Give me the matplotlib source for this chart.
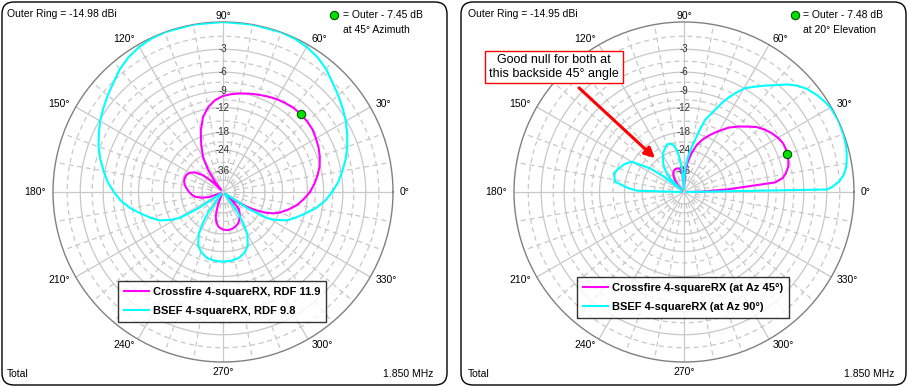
import numpy as np
import matplotlib
matplotlib.use("Agg")
import matplotlib.pyplot as plt
from matplotlib.patches import FancyBboxPatch, FancyArrowPatch
from matplotlib.transforms import IdentityTransform

# pattern values: dB below the outer ring
AZ_CROSS_DEG = [0, 5, 10, 15, 20, 25, 30, 35, 40, 45, 50, 55, 60, 65, 70, 75, 80, 85, 90, 95,
                100, 105, 110, 115, 120, 124, 128, 132, 136, 140, 145, 150, 155, 160, 165, 170,
                175, 180, 185, 190, 195, 200, 205, 245, 248, 251, 254, 258, 263, 270, 277, 284,
                290, 296, 302, 308, 313, 317, 320, 324, 328, 331, 334, 337, 340, 345, 350, 355, 360]
AZ_CROSS_DB = [11.5, 10.6, 9.8, 9.1, 8.6, 8.2, 7.9, 7.6, 7.5, 7.45, 7.5, 7.7, 7.9, 8.2, 8.5, 8.8, 9.1, 9.4, 9.8, 10.5,
               11.7, 13.5, 16.5, 20.5, 25.0, 32.0, 45.0, 70.0, 42.0, 32.0, 27.5, 25.5, 24.7, 24.5, 24.7, 25.4,
               26.5, 27.7, 29.0, 31.0, 35.0, 42.0, 70.0, 70.0, 45.0, 37.6, 32.0, 29.0, 27.0, 25.9, 25.5, 25.7,
               26.3, 27.2, 29.0, 31.5, 34.0, 45.0, 70.0, 40.0, 31.0, 26.0, 22.0, 19.5, 17.8, 15.8, 14.0, 12.7, 11.5]

AZ_BSEF_DEG = [0, 5, 10, 15, 20, 25, 30, 35, 40, 45, 50, 55, 60, 65, 70, 80, 90, 100, 110, 115,
               120, 125, 130, 135, 140, 145, 150, 155, 160, 165, 170, 175, 180, 185, 190, 195, 200,
               204, 208, 211, 213.5, 216, 230, 234, 237, 240, 245, 250, 256, 263, 270, 277, 284,
               290, 295, 300, 303, 306, 310, 324, 326.5, 329, 332, 336, 340, 345, 350, 355, 360]
AZ_BSEF_DB = [7.6, 6.6, 5.8, 5.0, 4.3, 3.7, 3.1, 2.6, 2.1, 1.6, 1.0, 0.55, 0.25, 0.08, 0.0, 0.0, 0.0, 0.0, 0.0, 0.08,
              0.25, 0.55, 1.0, 1.6, 2.1, 2.6, 3.1, 3.7, 4.3, 5.0, 5.8, 6.6, 7.6, 8.7, 10.2, 12.0, 13.8,
              15.3, 18.0, 21.0, 30.0, 70.0, 70.0, 33.0, 26.0, 21.5, 18.2, 16.8, 15.8, 15.4, 15.3, 15.4, 15.8,
              16.8, 18.2, 21.5, 26.0, 33.0, 70.0, 70.0, 30.0, 21.0, 18.0, 15.3, 13.8, 12.0, 10.2, 8.7, 7.6]

EL_CROSS_DEG = [0, 1, 3.5, 6, 8, 10, 13.6, 17, 20, 23, 26, 30, 34, 38, 42, 45.5, 50, 55, 58.7, 62,
                66, 71, 75, 79, 83, 87, 90, 93, 96, 101, 106, 111, 116, 120, 124, 128, 132, 135, 180]
EL_CROSS_DB = [70.0, 40.0, 23.1, 10.6, 9.2, 8.6, 7.9, 7.6, 7.48, 7.4, 7.4, 7.7, 8.2, 8.8, 9.6, 10.6, 11.8, 13.2, 14.6, 15.8,
               17.3, 19.4, 21.6, 25.1, 29.5, 37.9, 70.0, 42.0, 36.5, 33.8, 33.2, 33.3, 34.0, 35.5, 38.0, 43.0, 50.0, 70.0, 70.0]

EL_BSEF_DEG = [0, 1, 2, 4, 6, 8, 10, 13, 16, 20, 25, 30, 33, 36, 40, 43, 46, 49.6, 53, 56, 59.5,
               62, 65, 67, 70, 73.7, 76, 78, 80, 82, 84, 86, 88, 90, 92, 94, 96, 98, 100, 102, 105,
               108, 111, 114, 117, 120, 123, 126.6, 130, 133, 136, 140, 143, 145, 150, 155, 160, 165,
               171.5, 176, 178.4, 180]
EL_BSEF_DB = [70.0, 3.0, 2.3, 1.5, 1.0, 0.7, 0.5, 0.3, 0.15, 0.05, 0.0, 0.1, 0.3, 0.55, 1.0, 1.5, 2.2, 3.3, 4.2, 5.0, 5.9,
              7.0, 8.5, 9.7, 11.8, 14.0, 17.0, 20.0, 22.2, 24.8, 28.0, 32.0, 38.0, 48.0, 70.0, 38.0, 31.0, 26.5, 23.5, 22.0, 21.0,
              20.8, 21.2, 22.0, 22.8, 24.0, 25.5, 27.3, 30.0, 33.0, 38.0, 70.0, 32.0, 24.5, 17.7, 16.3, 15.4, 14.6,
              15.3, 19.1, 22.0, 70.0]

RING_DB = [3, 6, 9, 12, 18, 24, 36]
HALF_RING_DB = [1.5, 4.5, 7.5, 10.5, 15, 21, 30]
ANGLE_TICKS = list(range(0, 360, 30))

MAGENTA = "#ff00ff"
CYAN = "#00ffff"
GRID = "#c8c8c8"
FONT = "Liberation Sans"


def arrl(db):
    # ARRL log scale: radius falls by 0.89 every 2 dB
    return 0.89 ** (np.asarray(db, dtype=float) / 2.0)


def draw_grid(ax):
    th = np.linspace(0, 2 * np.pi, 361)
    for db in RING_DB:
        ax.plot(th, np.full_like(th, arrl(db)), color=GRID, lw=0.9, zorder=1)
    for db in HALF_RING_DB:
        ax.plot(th, np.full_like(th, arrl(db)), color=GRID, lw=0.9, ls=(0, (4, 3)), zorder=1)
    ax.plot(th, np.full_like(th, 0.07), color=GRID, lw=0.9, zorder=1)
    for a in range(0, 360, 10):
        t = np.deg2rad(a)
        if a % 30 == 0:
            ax.plot([t, t], [0, 1], color=GRID, lw=0.9, zorder=1)
        else:
            ax.plot([t, t], [0.07, 1], color=GRID, lw=0.9, ls=(0, (4, 3)), zorder=1)
    for db in RING_DB:
        ax.text(np.pi / 2, arrl(db), f"-{db}", ha="center", va="center", fontsize=7,
                color="#303030", family=FONT, zorder=3)
    for a in ANGLE_TICKS:
        t = np.deg2rad(a)
        c = np.cos(t)
        if a == 90:
            ax.text(t, 1.005, f"{a}°", ha="center", va="bottom", fontsize=7.5, family=FONT, clip_on=False)
        elif a == 270:
            ax.text(t, 1.03, f"{a}°", ha="center", va="top", fontsize=7.5, family=FONT, clip_on=False)
        else:
            ax.text(t, 1.04, f"{a}°", ha="left" if c > 0 else "right", va="center",
                    fontsize=7.5, family=FONT, clip_on=False)


def setup(ax):
    ax.set_ylim(0, 1)
    ax.set_xticks([])
    ax.set_yticks([])
    ax.grid(False)
    ax.spines["polar"].set_color("#808080")
    ax.spines["polar"].set_linewidth(1.0)
    ax.set_facecolor("white")
    draw_grid(ax)


fig = plt.figure(figsize=(9.09, 3.87), dpi=100)

for x0 in (2, 461):
    fig.add_artist(FancyBboxPatch((x0, 2), 445, 383, boxstyle="round,pad=0,rounding_size=12",
                                  transform=IdentityTransform(), fc="none", ec="black", lw=1.0))

axL = fig.add_axes([53 / 909, 25 / 387, 340 / 909, 340 / 387], projection="polar")
axR = fig.add_axes([514 / 909, 25 / 387, 340 / 909, 340 / 387], projection="polar")
setup(axL)
setup(axR)

axL.plot(np.deg2rad(AZ_CROSS_DEG), arrl(AZ_CROSS_DB), color=MAGENTA, lw=1.5, zorder=4,
         label="Crossfire 4-squareRX, RDF 11.9")
axL.plot(np.deg2rad(AZ_BSEF_DEG), arrl(AZ_BSEF_DB), color=CYAN, lw=1.5, zorder=4,
         label="BSEF 4-squareRX, RDF 9.8")
axL.plot(np.deg2rad(45), arrl(7.45), "o", ms=6, mfc="#00e000", mec="#005000", mew=0.8, zorder=6)

axR.plot(np.deg2rad(EL_CROSS_DEG), arrl(EL_CROSS_DB), color=MAGENTA, lw=1.5, zorder=4,
         label="Crossfire 4-squareRX (at Az 45°)")
axR.plot(np.deg2rad(EL_BSEF_DEG), arrl(EL_BSEF_DB), color=CYAN, lw=1.5, zorder=4,
         label="BSEF 4-squareRX (at Az 90°)")
axR.plot(np.deg2rad(20), arrl(7.48), "o", ms=6, mfc="#00e000", mec="#005000", mew=0.8, zorder=6)

leg_kw = dict(loc="upper left", bbox_transform=fig.transFigure, frameon=True, fancybox=False,
              borderaxespad=0, borderpad=0.5, handlelength=2.3, handletextpad=0.35,
              labelspacing=0.85, prop={"family": FONT, "weight": "bold", "size": 8})
for ax, (lx, ly) in ((axL, (118, 281)), (axR, (577, 277))):
    leg = ax.legend(bbox_to_anchor=(lx / 909, 1 - ly / 387), **leg_kw)
    leg.get_frame().set_edgecolor("black")
    leg.get_frame().set_linewidth(1.0)
    leg.set_zorder(10)


def ftext(x, y, s, **kw):
    kw.setdefault("fontsize", 7.5)
    fig.text(x / 909, 1 - y / 387, s, family=FONT, **kw)


ftext(7, 14, "Outer Ring = -14.98 dBi", va="center")
ftext(7, 374, "Total", va="center")
ftext(433, 374, "1.850 MHz", va="center", ha="right")
ftext(343, 15, "= Outer - 7.45 dB", va="center")
ftext(343, 30, "at 45° Azimuth", va="center")

ftext(468, 14, "Outer Ring = -14.95 dBi", va="center")
ftext(468, 374, "Total", va="center")
ftext(894, 374, "1.850 MHz", va="center", ha="right")
ftext(803, 15, "= Outer - 7.48 dB", va="center")
ftext(803, 30, "at 20° Elevation", va="center")

for gx in (334, 795):
    fig.add_artist(plt.Line2D([gx / 909], [1 - 15 / 387], marker="o", ms=6, mfc="#00e000",
                              mec="#005000", mew=0.8, transform=fig.transFigure))

ftext(554, 67, "Good null for both at\nthis backside 45° angle", fontsize=9, ha="center", va="center",
      linespacing=1.15,
      bbox=dict(boxstyle="square,pad=0.3", fc="white", ec="#ff0000", lw=1.0))

fig.add_artist(FancyArrowPatch((577 / 909, 1 - 86 / 387), (657 / 909, 1 - 160 / 387),
                               transform=fig.transFigure, arrowstyle="-|>,head_length=6,head_width=3",
                               color="#ff0000", lw=2.2, zorder=12))

fig.savefig("out.png", dpi=100)
